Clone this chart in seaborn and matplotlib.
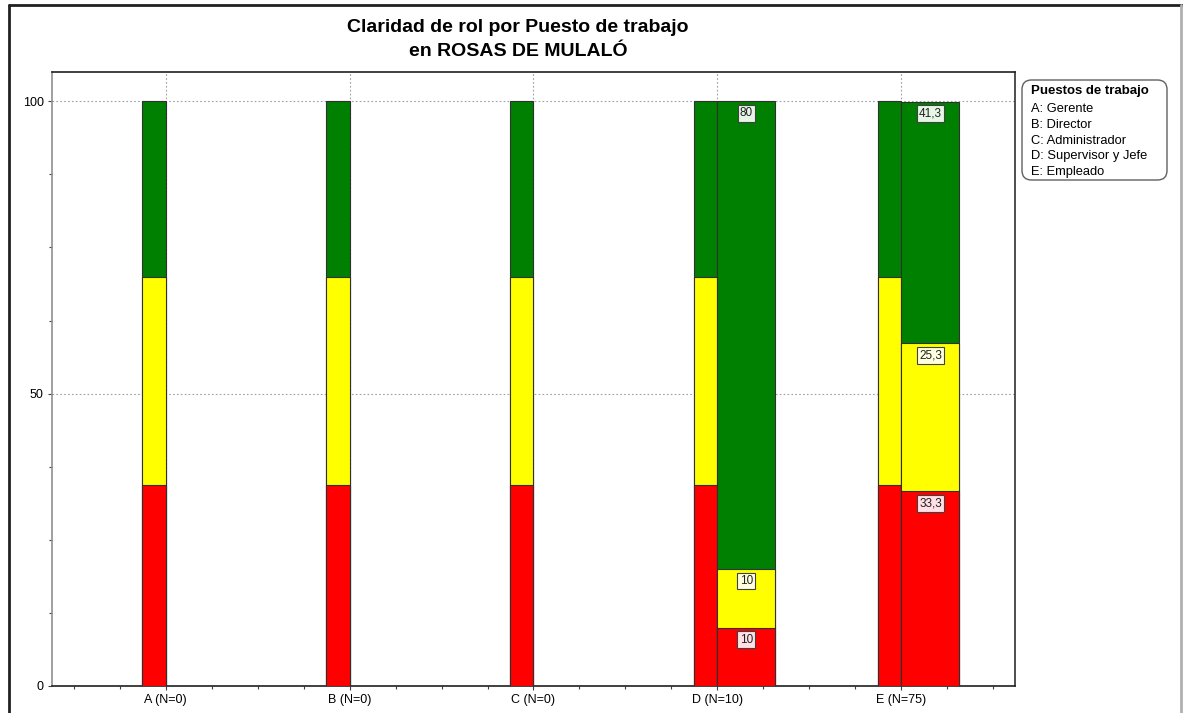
import matplotlib
matplotlib.use("Agg")
import matplotlib.pyplot as plt
from matplotlib.lines import Line2D
from matplotlib.patches import FancyBboxPatch
from matplotlib.ticker import MultipleLocator, FixedLocator
import numpy as np
import pandas as pd
import seaborn as sns

# Job positions (x axis) and sample sizes
categories = ["A (N=0)", "B (N=0)", "C (N=0)", "D (N=10)", "E (N=75)"]
legend_title = "Puestos de trabajo"
legend_labels = ["A: Gerente", "B: Director", "C: Administrador",
                 "D: Supervisor y Jefe", "E: Empleado"]

# Reference band drawn beside every position (low / medium / high)
ref_red = [34.3, 34.3, 34.3, 34.3, 34.3]
ref_yellow = [35.7, 35.7, 35.7, 35.7, 35.7]
ref_green = [30.0, 30.0, 30.0, 30.0, 30.0]

# Observed percentages per position
obs_red = [0, 0, 0, 10, 33.3]
obs_yellow = [0, 0, 0, 10, 25.3]
obs_green = [0, 0, 0, 80, 41.3]

RED, YELLOW, GREEN = "#FF0000", "#FFFF00", "#008000"
LABEL_FACE = {RED: "#FFE0E6", YELLOW: "#FFFFE0", GREEN: "#E6F5E6"}

sns.set_theme(style="white")
plt.rcParams["font.family"] = ["Liberation Sans", "DejaVu Sans"]
plt.rcParams["text.color"] = "black"

W, H = 1183, 713
fig = plt.figure(figsize=(W / 100, H / 100), dpi=100)
ax = fig.add_axes([52 / W, 1 - 686 / H, (1015 - 52) / W, (686 - 72) / H])

pos = np.arange(len(categories))
ref_w, obs_w = 0.13, 0.315


def stacked(xcenters, layers, width):
    """Draw a stacked column set by painting cumulative totals from the top down."""
    cum = np.cumsum(np.array([v for v, _ in layers], dtype=float), axis=0)
    for (vals, color), tops in reversed(list(zip(layers, cum))):
        df = pd.DataFrame({"x": xcenters, "y": tops})
        sns.barplot(data=df, x="x", y="y", native_scale=True, orient="x",
                    width=width, color=color, saturation=1, errorbar=None,
                    edgecolor="#303030", linewidth=0.8, ax=ax, zorder=3)
    return cum


# Reference columns sit just left of each category position
stacked(pos - ref_w / 2, [(ref_red, RED), (ref_yellow, YELLOW), (ref_green, GREEN)], ref_w)

# Observed columns only for positions with respondents
has_data = np.array(obs_red) + np.array(obs_yellow) + np.array(obs_green) > 0
idx = np.where(has_data)[0]
layers = [(np.array(obs_red)[idx], RED), (np.array(obs_yellow)[idx], YELLOW),
          (np.array(obs_green)[idx], GREEN)]
cum = stacked(pos[idx] + obs_w / 2, layers, obs_w)

# Value tags near the top of every observed segment
for li, (vals, color) in enumerate(layers):
    for j, i in enumerate(idx):
        v = vals[j]
        if v <= 0:
            continue
        ax.annotate(f"{v:g}".replace(".", ","), xy=(pos[i] + obs_w / 2, cum[li][j]),
                    xytext=(0, -12), textcoords="offset pixels",
                    ha="center", va="center", fontsize=8.5, color="#202020", zorder=5,
                    bbox=dict(boxstyle="square,pad=0.2", fc=LABEL_FACE[color],
                              ec="#404040", lw=0.8))

ax.set_xlim(-0.617, 4.617)
ax.set_ylim(0, 105)
ax.set_xlabel("")
ax.set_ylabel("")
ax.xaxis.set_major_locator(FixedLocator(pos))
ax.set_xticklabels(categories, fontsize=9)
ax.xaxis.set_minor_locator(MultipleLocator(0.25))
ax.yaxis.set_major_locator(FixedLocator([0, 50, 100]))
ax.yaxis.set_minor_locator(MultipleLocator(12.5))
ax.tick_params(axis="both", which="major", direction="out", length=3, width=0.8,
               colors="#404040", labelcolor="black", labelsize=9, pad=3)
ax.tick_params(axis="both", which="minor", direction="out", length=2, width=0.8,
               colors="#404040")
ax.tick_params(axis="x", which="both", bottom=True)
ax.tick_params(axis="y", which="both", left=True)

ax.grid(True, which="major", axis="both", color="#A0A0A0", linestyle=(0, (1.5, 2)),
        linewidth=0.8, zorder=0)
ax.set_axisbelow(True)

for side, col in {"left": "#909090", "bottom": "#202020", "top": "#202020",
                  "right": "#303030"}.items():
    ax.spines[side].set_visible(True)
    ax.spines[side].set_color(col)
    ax.spines[side].set_linewidth(1.2)

# Title
fig.text(518 / W, 1 - 28 / H, "Claridad de rol por Puesto de trabajo", ha="center",
         va="center", fontsize=14, fontweight="bold", color="black")
fig.text(518 / W, 1 - 51 / H, "en ROSAS DE MULALÓ", ha="center", va="center",
         fontsize=14, fontweight="bold", color="black")

# Key box for the job positions
x0, y0, x1, y1 = 1022, 80, 1167, 180
fig.add_artist(FancyBboxPatch((x0 / W, 1 - y1 / H), (x1 - x0) / W, (y1 - y0) / H,
                              boxstyle="round,pad=0,rounding_size=0.008",
                              transform=fig.transFigure, fc="white", ec="#606060",
                              lw=1.0, mutation_aspect=W / H))
fig.text(1031 / W, 1 - 91 / H, legend_title, ha="left", va="center",
         fontsize=9.5, fontweight="bold")
for k, lab in enumerate(legend_labels):
    fig.text(1031 / W, 1 - (108.5 + 16 * k) / H, lab, ha="left", va="center",
             fontsize=9.3)

# Outer frame of the figure
fig.add_artist(Line2D([9 / W, 9 / W], [0, 1 - 5 / H], color="#202020", lw=2,
                      transform=fig.transFigure))
fig.add_artist(Line2D([9 / W, 1], [1 - 5 / H, 1 - 5 / H], color="#202020", lw=2,
                      transform=fig.transFigure))
fig.add_artist(Line2D([1181 / W, 1181 / W], [0, 1 - 5 / H], color="#B0B0B0", lw=2,
                      transform=fig.transFigure))

fig.savefig("out.png", dpi=100)
